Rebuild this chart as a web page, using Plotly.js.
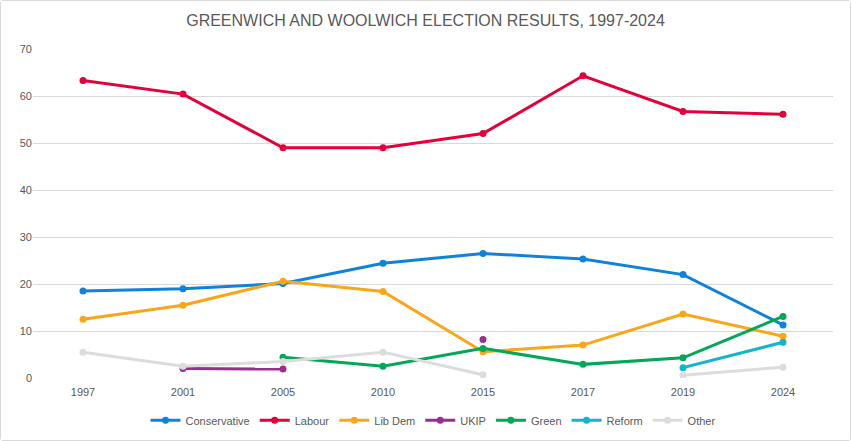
<!DOCTYPE html>
<html>
<head>
<meta charset="utf-8">
<script src="https://cdn.plot.ly/plotly-3.0.1.min.js"></script>
<style>
html,body{margin:0;padding:0;background:#fff;}
#chart{width:849px;height:439px;border:1px solid #d9d9d9;border-radius:3px;}
</style>
</head>
<body>
<div id="chart"></div>
<script>
const years = ["1997","2001","2005","2010","2015","2017","2019","2024"];
const conservative = [18.5, 19.0, 20.1, 24.4, 26.5, 25.3, 22.0, 11.3];
const labour = [63.3, 60.4, 49.0, 49.0, 52.0, 64.3, 56.7, 56.1];
const libDem = [12.5, 15.5, 20.6, 18.4, 5.6, 7.0, 13.6, 8.9];
const ukip = [null, 2.0, 1.9, null, 8.2, null, null, null];
const green = [null, null, 4.4, 2.5, 6.3, 2.9, 4.3, 13.1];
const reform = [null, null, null, null, null, null, 2.2, 7.6];
const other = [5.5, 2.5, 3.5, 5.5, 0.7, null, 0.6, 2.3];

const seriesNames = ["Conservative","Labour","Lib Dem","UKIP","Green","Reform","Other"];
const seriesData = [conservative, labour, libDem, ukip, green, reform, other];
const colors = ["#0F83DB","#E4003B","#FAA61A","#992D92","#02A857","#13B4CE","#DCDCDC"];

const traces = seriesNames.map((n,i)=>({
  x: years, y: seriesData[i], name: n, type:'scatter', mode:'lines+markers',
  connectgaps:false,
  line:{color:colors[i], width:3},
  marker:{color:colors[i], size:7}
}));

const layout = {
  width:849, height:439,
  margin:{l:32, r:17, t:48, b:62, autoexpand:false},
  paper_bgcolor:'#fff', plot_bgcolor:'#fff',
  title:{text:'GREENWICH AND WOOLWICH ELECTION RESULTS, 1997-2024', x:0.5, xanchor:'center', y:0.955, yanchor:'middle',
    font:{family:'Liberation Sans, Arial, sans-serif', size:16, color:'#595959'}},
  xaxis:{type:'category', range:[-0.5,7.5], showgrid:false, zeroline:false, showline:false, ticks:'outside', ticklen:4, tickcolor:'rgba(0,0,0,0)',
    tickfont:{family:'Liberation Sans, Arial, sans-serif', size:11, color:'#595959'}},
  yaxis:{range:[0,70], dtick:10, showgrid:true, gridcolor:'#d9d9d9', gridwidth:1, zeroline:false, showline:false,
    ticks:'', tickfont:{family:'Liberation Sans, Arial, sans-serif', size:11, color:'#595959'}},
  showlegend:true,
  legend:{orientation:'h', x:0.5, xanchor:'center', yref:'container', y:0.045, yanchor:'middle',
    font:{family:'Liberation Sans, Arial, sans-serif', size:11, color:'#595959'}},
};
Plotly.newPlot('chart', traces, layout, {displayModeBar:false, staticPlot:true});
</script>
</body>
</html>
